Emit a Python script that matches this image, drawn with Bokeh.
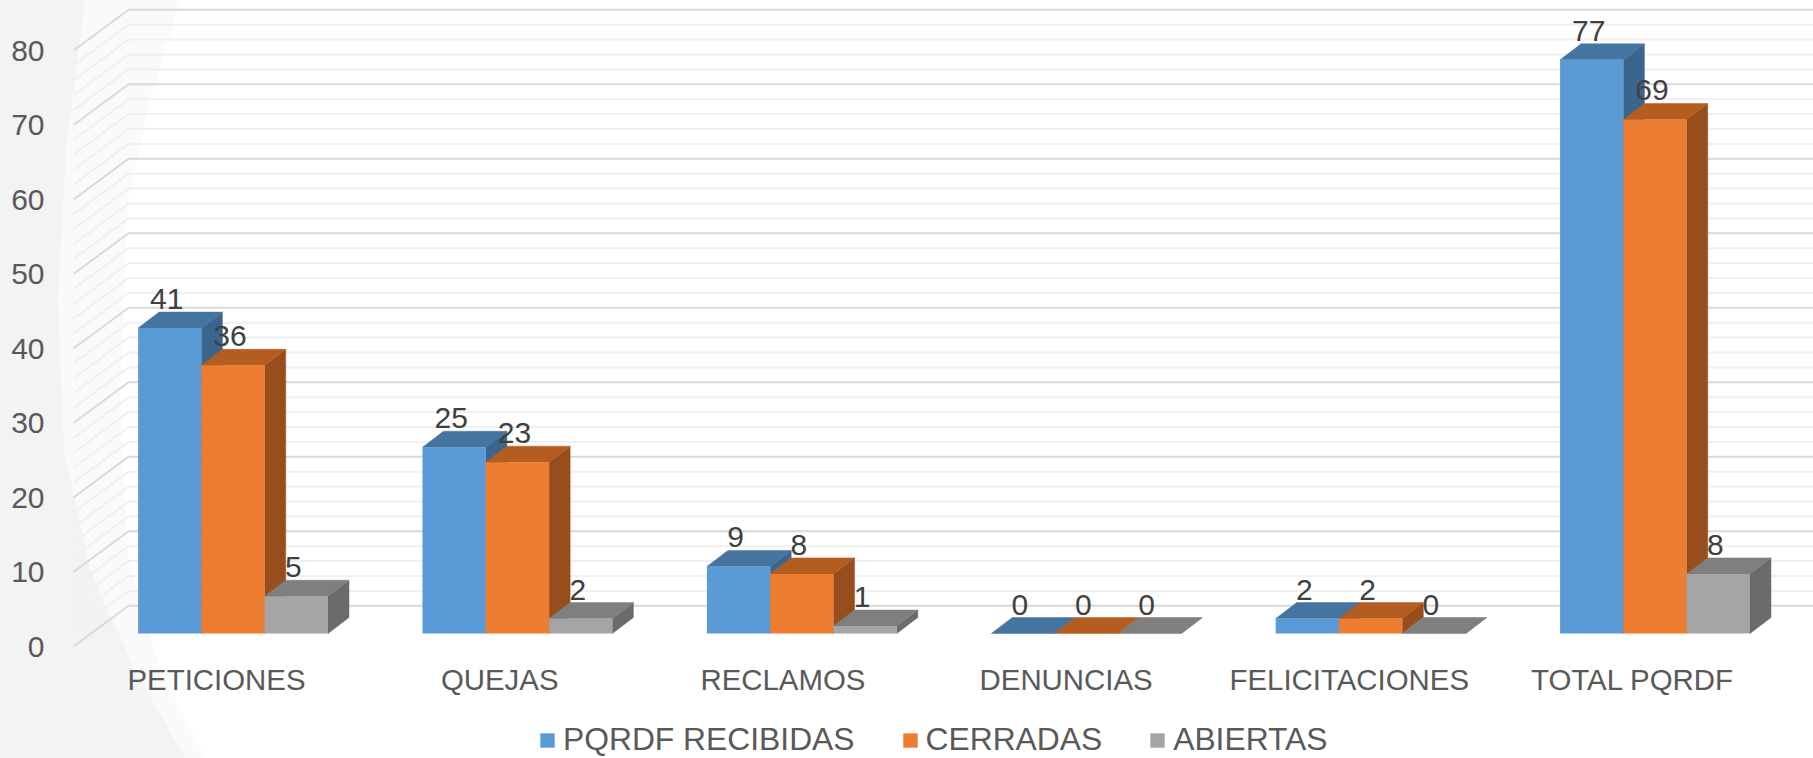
from bokeh.plotting import figure
from bokeh.models import (Range1d, LinearAxis, FixedTicker, Legend, LegendItem, ColumnDataSource)
from bokeh.core.properties import value
from bokeh.embed import file_html
from bokeh.resources import INLINE

categories = ["PETICIONES", "QUEJAS", "RECLAMOS", "DENUNCIAS", "FELICITACIONES", "TOTAL PQRDF"]
recibidas = [41, 25, 9, 0, 2, 77]
cerradas = [36, 23, 8, 0, 2, 69]
abiertas = [5, 2, 1, 0, 0, 8]
series_names = ["PQRDF RECIBIDAS", "CERRADAS", "ABIERTAS"]
y_ticks = [0, 10, 20, 30, 40, 50, 60, 70, 80]

FONT = "Liberation Sans"
face = ["#5B9BD5", "#ED7D31", "#A5A5A5"]
top = ["#4674A0", "#B55D20", "#7F7F7F"]
side = ["#3A668E", "#974E1C", "#6B6B6B"]

# page-pixel calibration (the figure fills the window)
FR_L, FR_R, FR_T, FR_B = 60, 1813, 4, 758
PX_Y = 7.45            # pixels per unit on the value axis
Y0 = 646               # page y of value 0 on the front plane (axis)
PX_X = 284.4           # pixels between category groups
X0 = 137.6             # page x of the first bar's left edge
LAB_X0, LAB_STEP = 216, 283.2

p = figure(width=1813, height=758, output_backend="svg", toolbar_location=None,
           x_range=Range1d((FR_L - X0) / PX_X, (FR_R - X0) / PX_X),
           y_range=Range1d((Y0 - FR_B) / PX_Y, (Y0 - FR_T) / PX_Y),
           x_axis_location=None, min_border_left=FR_L, min_border_top=FR_T,
           min_border_right=0, min_border_bottom=0)
p.extra_x_ranges = {"lab": Range1d((FR_L - LAB_X0) / LAB_STEP, (FR_R - LAB_X0) / LAB_STEP)}
p.background_fill_color = None
p.border_fill_color = None
p.outline_line_color = None
p.grid.visible = False

wall_dx = 55 / PX_X
wall_dy = 40.7 / PX_Y
front_x = (73 - X0) / PX_X
back_x = front_x + wall_dx
right_x = (FR_R - X0) / PX_X
for step_vals, color, w in ((list(range(0, 82, 2)), "#f0f0f0", 2), (y_ticks, "#d9d9d9", 2)):
    vals = [v for v in step_vals if color != "#f0f0f0" or v % 10]
    p.multi_line([[front_x, back_x, right_x] for _ in vals],
                 [[v, v + wall_dy, v + wall_dy] for v in vals], line_color=color, line_width=w)

bw = 63.3 / PX_X
dep_x = 21 / PX_X
dep_y = 16 / PX_Y
lift = 13 / PX_Y
renderers = []
for s, vals in enumerate((recibidas, cerradas, abiertas)):
    lefts = [i + s * bw for i in range(len(categories))]
    rights = [l + bw for l in lefts]
    tops = [v + lift for v in vals]
    bases = [lift] * len(vals)
    side_x = [[r, r + dep_x, r + dep_x, r] for r in rights]
    side_y = [[b, b + dep_y, t + dep_y, t] for b, t in zip(bases, tops)]
    top_x = [[l, l + dep_x, r + dep_x, r] for l, r in zip(lefts, rights)]
    top_y = [[t, t + dep_y, t + dep_y, t] for t in tops]
    p.patches(side_x, side_y, fill_color=side[s], line_color=side[s], line_width=0.5)
    p.patches(top_x, top_y, fill_color=top[s], line_color=top[s], line_width=0.5)
    r = p.quad(left=lefts, right=rights, bottom=bases, top=tops, fill_color=face[s], line_color=None)
    renderers.append(r)

for s, vals in enumerate((recibidas, cerradas, abiertas)):
    src = ColumnDataSource(dict(x=[i + (s + 0.5) * bw for i in range(len(categories))],
                                y=[v + lift for v in vals], t=[str(v) for v in vals]))
    p.text("x", "y", "t", source=src, text_font=value(FONT), text_font_size="30px",
           text_color="#404040", text_align="center", text_baseline="alphabetic",
           x_offset=-3, y_offset=-29)

p.yaxis.ticker = FixedTicker(ticks=y_ticks)
p.yaxis.axis_line_color = None
p.yaxis.major_tick_line_color = None
p.yaxis.minor_tick_line_color = None
p.yaxis.major_label_standoff = 10
p.yaxis.major_label_text_font = FONT
p.yaxis.major_label_text_font_size = "30px"
p.yaxis.major_label_text_color = "#595959"

xaxis = LinearAxis(x_range_name="lab", ticker=FixedTicker(ticks=list(range(len(categories)))),
                   major_label_overrides={i: c for i, c in enumerate(categories)},
                   fixed_location=(Y0 - 650) / PX_Y,
                   axis_line_color=None, major_tick_line_color=None, minor_tick_line_color=None,
                   major_label_standoff=6, major_label_text_font=FONT,
                   major_label_text_font_size="29.4px", major_label_text_color="#595959",
                   major_label_orientation="horizontal")
p.add_layout(xaxis, "below")

legend = Legend(items=[LegendItem(label=value(n), renderers=[r]) for n, r in zip(series_names, renderers)],
                orientation="horizontal", location=(478, 0), border_line_color=None,
                background_fill_alpha=0,
                glyph_width=18, glyph_height=18, label_standoff=7, spacing=46, padding=0, margin=0,
                label_text_font=FONT, label_text_font_size="31.8px", label_text_color="#595959",
                label_text_line_height=0.85)
p.add_layout(legend)

def path(pts):
    return "M" + " L".join(f"{a} {b}" for a, b in pts) + " Z"
band = [(0, 0), (180, 0), (150, 100), (128, 200), (120, 400), (128, 560), (160, 670), (205, 758), (0, 758)]
dark = [(0, 0), (85, 0), (66, 150), (58, 300), (64, 450), (90, 570), (135, 670), (185, 758), (0, 758)]
svg = ("<svg xmlns='http://www.w3.org/2000/svg' width='1813' height='758'>"
       f"<path d='{path(band)}' fill='%23fafafa'/><path d='{path(dark)}' fill='%23f3f3f3'/></svg>")
style = f'<style>html{{background:#fff url("data:image/svg+xml,{svg}") no-repeat 0 0}}</style>'
html = file_html(p, INLINE)
html = html.replace("<head>", "<head>" + style, 1)
open("out.html", "w").write(html)
